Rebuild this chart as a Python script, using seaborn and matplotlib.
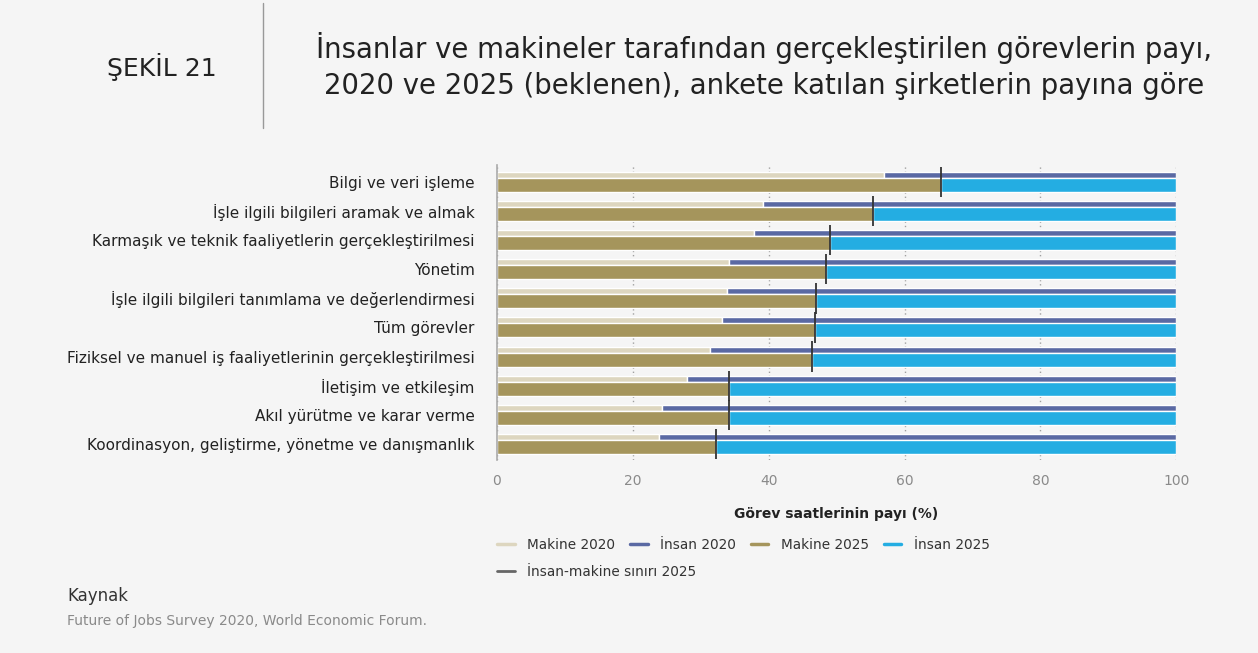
import matplotlib.pyplot as plt
import numpy as np
import seaborn as sns
from matplotlib.lines import Line2D

# values (share of task hours, %)
categories = [
    "Bilgi ve veri işleme",
    "İşle ilgili bilgileri aramak ve almak",
    "Karmaşık ve teknik faaliyetlerin gerçekleştirilmesi",
    "Yönetim",
    "İşle ilgili bilgileri tanımlama ve değerlendirmesi",
    "Tüm görevler",
    "Fiziksel ve manuel iş faaliyetlerinin gerçekleştirilmesi",
    "İletişim ve etkileşim",
    "Akıl yürütme ve karar verme",
    "Koordinasyon, geliştirme, yönetme ve danışmanlık",
]
makine_2020 = [57.0, 39.1, 37.8, 34.1, 33.9, 33.2, 31.4, 28.0, 24.3, 23.9]
insan_2020 = [43.0, 60.9, 62.2, 65.9, 66.1, 66.8, 68.6, 72.0, 75.7, 76.1]
makine_2025 = [65.4, 55.3, 49.1, 48.4, 47.0, 46.8, 46.4, 34.2, 34.2, 32.2]
insan_2025 = [34.6, 44.7, 50.9, 51.6, 53.0, 53.2, 53.6, 65.8, 65.8, 67.8]
x_ticks = [0, 20, 40, 60, 80, 100]

BG = "#f5f5f5"
C_M20 = "#ddd6bf"
C_I20 = "#5a69a3"
C_M25 = "#a5955c"
C_I25 = "#24ade2"
C_LINE = "#333333"

sns.set_theme(style="white")
plt.rcParams["font.family"] = ["DejaVu Sans"]

fig = plt.figure(figsize=(12.58, 6.53), dpi=100, facecolor=BG)
ax = fig.add_axes([0.395, 0.2956, 0.54, 0.4517], facecolor=BG)

pos = np.arange(len(categories))
y20 = pos - 0.24
y25 = pos + 0.10

ax.barh(y20, makine_2020, height=0.21, color=C_M20, zorder=2)
ax.barh(y20, insan_2020, left=makine_2020, height=0.21, color=C_I20, zorder=2)
ax.barh(y25, makine_2025, height=0.48, color=C_M25, zorder=2)
ax.barh(y25, insan_2025, left=makine_2025, height=0.48, color=C_I25, zorder=2)
ax.vlines(makine_2025, pos - 0.52, pos + 0.52, color=C_LINE, lw=1.3, zorder=3)

ax.set_xlim(0, 100)
ax.set_ylim(len(categories) - 0.45, -0.58)
ax.set_xticks(x_ticks)
ax.set_xticklabels([str(t) for t in x_ticks], color="#8a8a8a", fontsize=10)
ax.set_yticks(pos)
ax.set_yticklabels(categories, fontsize=11, color="#222222")
ax.tick_params(axis="y", length=0, pad=16)
ax.tick_params(axis="x", length=0, pad=10)
ax.xaxis.grid(True, linestyle=(0, (1, 2)), color="#a0a0a0", lw=1, zorder=0)
ax.set_axisbelow(True)
for side in ["top", "right", "bottom"]:
    ax.spines[side].set_visible(False)
ax.spines["left"].set_color("#aaaaaa")
ax.spines["left"].set_linewidth(1.2)
ax.set_xlabel("Görev saatlerinin payı (%)", fontsize=10, fontweight="bold",
              color="#222222", labelpad=14)

# legend
row1 = [
    Line2D([], [], color=C_M20, lw=2.5, label="Makine 2020"),
    Line2D([], [], color=C_I20, lw=2.5, label="İnsan 2020"),
    Line2D([], [], color=C_M25, lw=2.5, label="Makine 2025"),
    Line2D([], [], color=C_I25, lw=2.5, label="İnsan 2025"),
]
row2 = [Line2D([], [], color="#666666", lw=2, label="İnsan-makine sınırı 2025")]
leg_kw = dict(frameon=False, fontsize=9.8, handlelength=1.3, handletextpad=0.9,
              labelcolor="#333333", borderaxespad=0, borderpad=0)
fig.legend(handles=row1, ncol=4, loc="center left",
           bbox_to_anchor=(497 / 1258, 1 - 545 / 653), columnspacing=1.1, **leg_kw)
fig.legend(handles=row2, loc="center left",
           bbox_to_anchor=(497 / 1258, 1 - 572 / 653), **leg_kw)

# header
fig.text(162 / 1258, 1 - 67 / 653, "ŞEKİL 21", fontsize=18, color="#222222",
         ha="center", va="center")
fig.add_artist(Line2D([263 / 1258, 263 / 1258], [1 - 3 / 653, 1 - 128 / 653],
                      color="#999999", lw=1))
fig.text(764 / 1258, 1 - 66 / 653,
         "İnsanlar ve makineler tarafından gerçekleştirilen görevlerin payı,\n"
         "2020 ve 2025 (beklenen), ankete katılan şirketlerin payına göre",
         fontsize=19.8, color="#222222", ha="center", va="center", linespacing=1.35)

# source
fig.text(67 / 1258, 1 - 596 / 653, "Kaynak", fontsize=12, color="#333333",
         va="center")
fig.text(67 / 1258, 1 - 621 / 653, "Future of Jobs Survey 2020, World Economic Forum.",
         fontsize=10, color="#8a8a8a", va="center")

fig.savefig("out.png", dpi=100, facecolor=BG)
